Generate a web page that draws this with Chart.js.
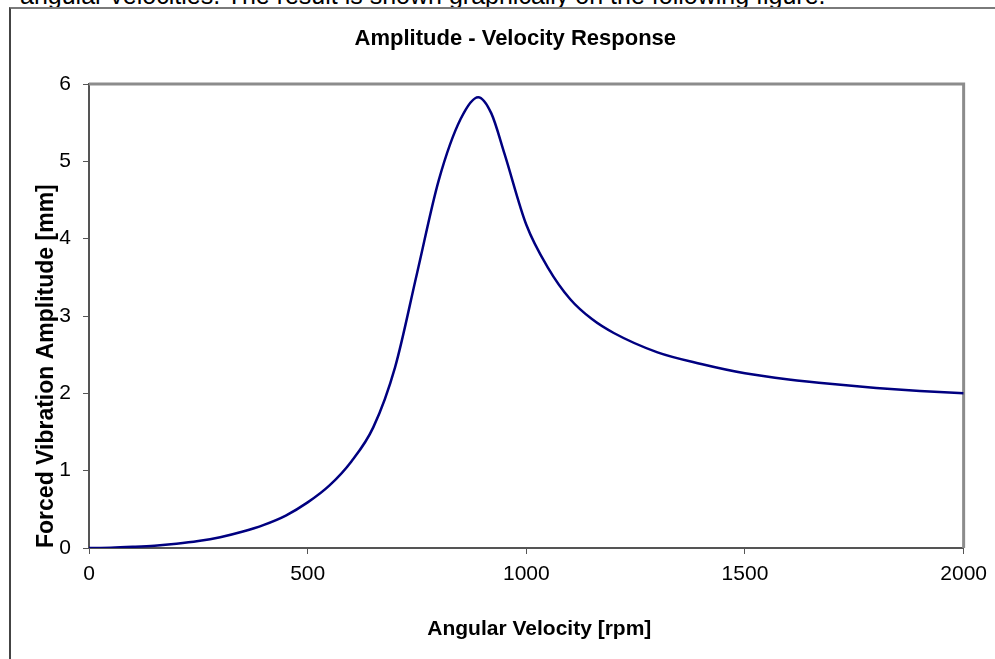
<!DOCTYPE html>
<html>
<head>
<meta charset="utf-8">
<script src="https://cdn.jsdelivr.net/npm/chart.js@4.4.1/dist/chart.umd.min.js"></script>
<style>
  html, body { margin: 0; padding: 0; background: #fff; overflow: hidden; }
  #wrap { position: relative; width: 995px; height: 659px; }
  #lead {
    position: absolute; left: 20px; top: -19px; line-height: 1;
    font: 25px "Liberation Sans", Arial, sans-serif; color: #000; white-space: nowrap;
  }
  #frame {
    position: absolute; left: 9px; top: 7px; right: -2px; bottom: -2px;
    border-left: 2px solid #444; border-top: 2px solid #7a7a7a;
  }
  #myChart { position: absolute; left: 0; top: 0; }
</style>
</head>
<body>
<div id="wrap">
  <div id="lead">angular velocities. The result is shown graphically on the following figure.</div>
  <div id="frame"></div>
  <canvas id="myChart" width="995" height="659"></canvas>
</div>
<script>
// rotor speed [rpm] and the forced vibration amplitude [mm] at each speed
const rpm = [0, 50, 100, 150, 200, 250, 300, 350, 400, 450, 500, 550, 600, 650, 700,
    750, 800, 850, 890, 920, 950, 1000, 1050, 1100, 1150, 1200, 1300, 1400, 1500,
    1600, 1700, 1800, 1900, 2000];
const amplitude = [0, 0.004, 0.015, 0.03, 0.055, 0.09, 0.14, 0.21, 0.3, 0.42, 0.59,
    0.81, 1.12, 1.56, 2.34, 3.55, 4.76, 5.55, 5.83, 5.62, 5.1, 4.18, 3.62, 3.22, 2.96,
    2.78, 2.53, 2.38, 2.26, 2.18, 2.12, 2.07, 2.03, 2.0];

const xTicks = [0, 500, 1000, 1500, 2000];
const yTicks = [0, 1, 2, 3, 4, 5, 6];

const chartTitle = "Amplitude - Velocity Response";
const xTitle = "Angular Velocity [rpm]";
const yTitle = "Forced Vibration Amplitude [mm]";

const points = rpm.map((r, i) => ({ x: r, y: amplitude[i] }));

const font = "'Liberation Sans', Arial, sans-serif";

// grey frame on the top and right of the plot area
const plotFrame = {
    id: 'plotFrame',
    beforeDatasetsDraw(chart) {
        const a = chart.chartArea;
        const ctx = chart.ctx;
        ctx.save();
        ctx.strokeStyle = '#8c8c8c';
        ctx.lineWidth = 3;
        ctx.beginPath();
        ctx.moveTo(a.left, a.top);
        ctx.lineTo(a.right, a.top);
        ctx.lineTo(a.right, a.bottom);
        ctx.stroke();
        ctx.restore();
    }
};

// chart heading and x axis caption, placed like the spreadsheet chart
const captions = {
    id: 'captions',
    afterDraw(chart) {
        const a = chart.chartArea;
        const ctx = chart.ctx;
        ctx.save();
        ctx.fillStyle = '#000';
        ctx.textAlign = 'center';
        ctx.textBaseline = 'middle';
        ctx.font = "bold 22px " + font;
        ctx.fillText(chartTitle, (a.left + a.right) / 2 - 11, 39);
        ctx.font = "bold 21px " + font;
        ctx.fillText(xTitle, (a.left + a.right) / 2 + 13, 629);
        ctx.restore();
    }
};

new Chart("myChart", {
    type: "line",
    data: {
        datasets: [{
            data: points,
            borderColor: "#000080",
            borderWidth: 2.5,
            pointRadius: 0,
            fill: false,
            cubicInterpolationMode: 'monotone'
        }]
    },
    options: {
        responsive: false,
        animation: false,
        layout: { padding: { left: 0, right: 28, top: 84, bottom: 0 } },
        plugins: {
            legend: { display: false },
            tooltip: { enabled: false },
            title: { display: false }
        },
        scales: {
            x: {
                type: 'linear',
                min: 0,
                max: 2000,
                afterBuildTicks(scale) { scale.ticks = xTicks.map(v => ({ value: v })); },
                afterFit(scale) { scale.height = 111; },
                ticks: { color: "#000", padding: 8, maxRotation: 0,
                    callback: v => String(v),
                    font: { family: font, size: 21 } },
                grid: { drawOnChartArea: false, tickLength: 6, color: "#555", lineWidth: 1 },
                border: { color: "#555", width: 2 }
            },
            y: {
                min: 0,
                max: 6,
                afterBuildTicks(scale) { scale.ticks = yTicks.map(v => ({ value: v })); },
                afterFit(scale) { scale.width = 89; },
                ticks: { color: "#000", padding: 12, callback: v => String(v),
                    font: { family: font, size: 21 } },
                grid: { drawOnChartArea: false, tickLength: 6, color: "#555", lineWidth: 1 },
                border: { color: "#555", width: 2 },
                title: {
                    display: true,
                    align: 'start',
                    text: yTitle,
                    color: "#000",
                    font: { family: font, size: 23, weight: 'bold', lineHeight: 1.2 },
                    padding: { top: 33, bottom: 0 }
                }
            }
        }
    },
    plugins: [plotFrame, captions]
});
</script>
</body>
</html>
